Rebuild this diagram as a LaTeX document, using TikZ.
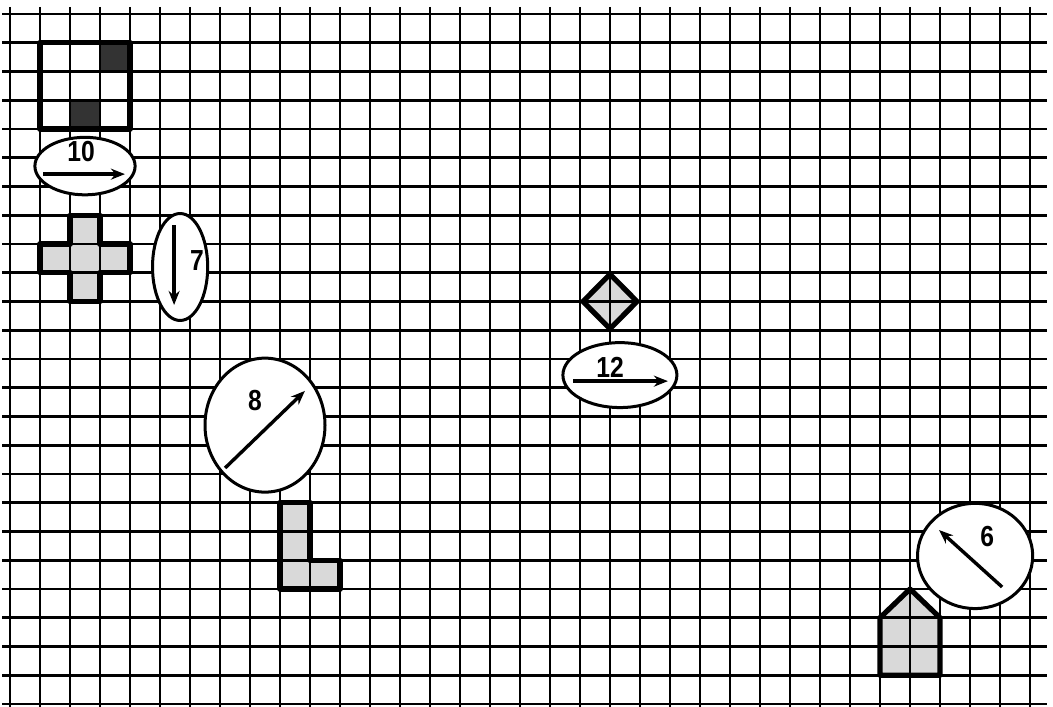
\documentclass[tikz,border=0pt]{standalone}
\usepackage{fontspec}
\setmainfont{Liberation Sans}
\usetikzlibrary{arrows.meta}
\begin{document}
\begin{tikzpicture}[x=15pt, y=-14.375pt,
  gridline/.style={black, line width=1.3pt},
  shapeline/.style={black, line width=2.6pt, line join=round},
  marker/.style={black, line width=1.5pt, fill=white},
  pointer/.style={black, line width=1.7pt, -{Stealth[length=7pt, width=5.5pt]}},
  num/.style={font=\fontsize{14.5}{16}\selectfont\bfseries, xscale=.85, inner sep=0pt}]
\useasboundingbox (-0.3333,-0.4870) rectangle (34.7667,24.0696);
\fill[black!15] (2,7) -- (3,7) -- (3,8) -- (4,8) -- (4,9) -- (3,9) -- (3,10) -- (2,10) -- (2,9) -- (1,9) -- (1,8) -- (2,8) -- cycle;
\fill[black!15] (9,17) -- (10,17) -- (10,19) -- (11,19) -- (11,20) -- (9,20) -- cycle;
\fill[black!15] (20,9.05) -- (20.9,10) -- (20,10.95) -- (19.1,10) -- cycle;
\fill[black!15] (29,23) -- (31,23) -- (31,21) -- (30,20) -- (29,21) -- cycle;
\fill[black!80] (3,1) rectangle (4,2);
\fill[black!80] (2,3) rectangle (3,4);
\foreach \i in {0,...,34}
  \draw[gridline] (\i,-0.25) -- (\i,24.1);
\foreach \j in {0,...,24}
  \draw[gridline] (-0.25,\j) -- (34.55,\j);
\draw[shapeline] (1,1) rectangle (4,4);
\draw[shapeline] (2,7) -- (3,7) -- (3,8) -- (4,8) -- (4,9) -- (3,9) -- (3,10) -- (2,10) -- (2,9) -- (1,9) -- (1,8) -- (2,8) -- cycle;
\draw[shapeline] (9,17) -- (10,17) -- (10,19) -- (11,19) -- (11,20) -- (9,20) -- cycle;
\draw[shapeline] (20,9.05) -- (20.9,10) -- (20,10.95) -- (19.1,10) -- cycle;
\draw[shapeline] (29,23) -- (31,23) -- (31,21) -- (30,20) -- (29,21) -- cycle;
\draw[marker] (2.5,5.29) ellipse [x radius=1.67, y radius=1.0];
\draw[marker] (5.67,8.8) ellipse [x radius=0.92, y radius=1.86];
\draw[marker] (8.5,14.3) ellipse [x radius=2.0, y radius=2.33];
\draw[marker] (20.33,12.56) ellipse [x radius=1.9, y radius=1.13];
\draw[marker] (32.17,18.85) ellipse [x radius=1.92, y radius=1.83];
\node[num] (lab10) at (2.37,4.8) {10};
\node[num] (lab7) at (6.23,8.56) {7};
\node[num] (lab8) at (8.17,13.43) {8};
\node[num] (lab12) at (20,12.28) {12};
\node[num] (lab6) at (32.57,18.19) {6};
\draw[pointer] (1.1,5.57) -- (3.83,5.57);
\draw[pointer] (5.47,7.34) -- (5.47,10.12);
\draw[pointer] (7.17,15.79) -- (9.83,13.11);
\draw[pointer] (18.77,12.77) -- (21.93,12.77);
\draw[pointer] (33.07,19.93) -- (30.97,17.95);
\end{tikzpicture}
\end{document}
